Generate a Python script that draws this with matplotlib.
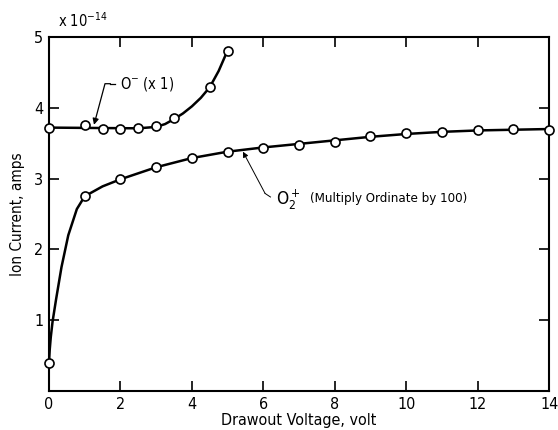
import matplotlib
matplotlib.use('Agg')
import matplotlib.pyplot as plt

# O- ion current (x 1), units of 1e-14 A
o_minus_v = [0, 1.0, 1.5, 2.0, 2.5, 3.0, 3.5, 4.5, 5.0]
o_minus_i = [3.72, 3.75, 3.70, 3.70, 3.72, 3.74, 3.85, 4.29, 4.80]
# smooth curve as drawn through the O- points
o_minus_fit_v = [0, 2.5, 3.0, 3.25, 3.5, 3.75, 4.0, 4.25, 4.5, 4.75, 5.0]
o_minus_fit_i = [3.72, 3.71, 3.73, 3.77, 3.84, 3.92, 4.02, 4.14, 4.29,
                 4.52, 4.81]

# O2+ ion current (multiply ordinate by 100)
o2_plus_v = [0, 1, 2, 3, 4, 5, 6, 7, 8, 9, 10, 11, 12, 13, 14]
o2_plus_i = [0.40, 2.75, 2.99, 3.16, 3.29, 3.38, 3.43, 3.48, 3.52, 3.60,
             3.65, 3.66, 3.69, 3.70, 3.69]
# smooth curve as drawn through the O2+ points
o2_plus_fit_v = [0, 0.02, 0.05, 0.1, 0.2, 0.35, 0.54, 0.78, 1.0, 1.5, 2,
                 3, 4, 5, 6, 7, 8, 9, 10, 11, 12, 13, 14]
o2_plus_fit_i = [0.40, 0.58, 0.76, 0.98, 1.30, 1.75, 2.20, 2.57, 2.75,
                 2.89, 2.99, 3.16, 3.29, 3.38, 3.44, 3.49, 3.54, 3.59,
                 3.63, 3.66, 3.68, 3.69, 3.70]

x_ticks = [0, 2, 4, 6, 8, 10, 12, 14]
y_ticks = [1, 2, 3, 4, 5]

plt.rcParams['font.family'] = 'DejaVu Sans'
plt.rcParams['font.stretch'] = 'condensed'

fig = plt.figure(figsize=(5.58, 4.30), dpi=100)
ax = fig.add_axes([0.0878, 0.0907, 0.8962, 0.8233])

ax.plot(o_minus_fit_v, o_minus_fit_i, color='black', lw=1.8, clip_on=False)
ax.plot(o2_plus_fit_v, o2_plus_fit_i, color='black', lw=1.8, clip_on=False)
ax.plot(o_minus_v, o_minus_i, 'o', ms=6.5, mfc='white', mec='black',
        mew=1.2, clip_on=False, zorder=3)
ax.plot(o2_plus_v, o2_plus_i, 'o', ms=6.5, mfc='white', mec='black',
        mew=1.2, clip_on=False, zorder=3)

ax.set_xlim(0, 14)
ax.set_ylim(0, 5)
ax.set_xticks(x_ticks)
ax.set_yticks(y_ticks)
ax.tick_params(direction='in', length=7, width=1.2, top=True, right=True,
               labelsize=11.5, pad=4)
for s in ax.spines.values():
    s.set_linewidth(1.5)

ax.set_xlabel('Drawout Voltage, volt', fontsize=11.5, labelpad=1)
ax.set_ylabel('Ion Current, amps', fontsize=11, labelpad=7)

# O- label with bent leader
ax.annotate('', xy=(1.26, 3.76), xytext=(1.72, 4.34),
            arrowprops=dict(arrowstyle='-|>', color='black', lw=0.9,
                            mutation_scale=9, shrinkA=0, shrinkB=0,
                            connectionstyle='angle,angleA=0,angleB=75,rad=0'))
ax.plot([1.72, 1.85], [4.34, 4.34], color='black', lw=0.9)
ax.text(1.98, 4.34, '$\\mathregular{O^{-}}$ (x 1)', fontsize=10.5,
        va='center', ha='left')

# O2+ label with leader
ax.annotate('', xy=(5.43, 3.38), xytext=(6.05, 2.79),
            arrowprops=dict(arrowstyle='-|>', color='black', lw=0.7,
                            mutation_scale=8, shrinkA=0, shrinkB=0))
ax.plot([6.05, 6.2], [2.79, 2.74], color='black', lw=0.7)
ax.text(6.35, 2.70, '$\\mathregular{O_2^+}$', fontsize=12.5,
        va='center', ha='left')
ax.text(7.3, 2.72, '(Multiply Ordinate by 100)', fontsize=9.5,
        va='center', ha='left')

fig.text(58 / 558, 1 - 27 / 430, 'x 10$^{\\mathregular{-14}}$', fontsize=10.5,
         ha='left', va='baseline')

fig.savefig('out.png', dpi=100)
plt.close(fig)
